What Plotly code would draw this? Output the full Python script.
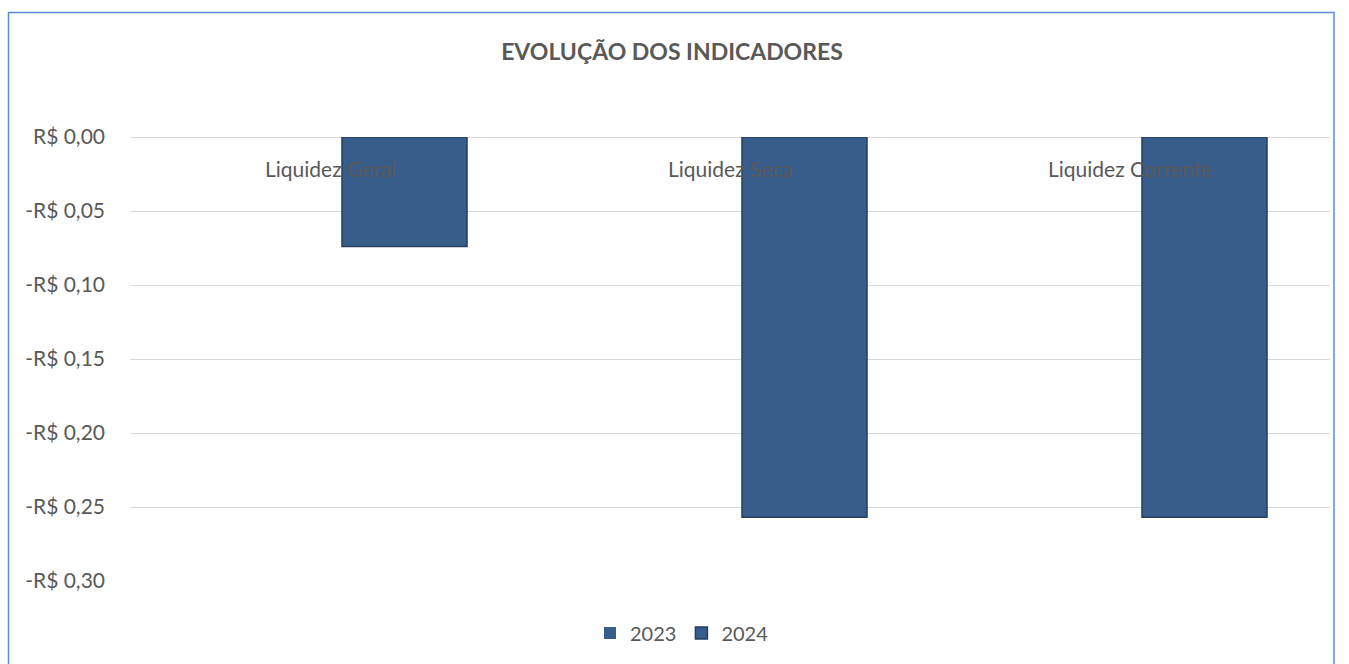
import plotly.graph_objects as go

categories = ["Liquidez Geral", "Liquidez Seca", "Liquidez Corrente"]
values_2023 = [0.0, 0.0, 0.0]
values_2024 = [-0.074, -0.257, -0.257]
tick_values = [0, -0.05, -0.10, -0.15, -0.20, -0.25, -0.30]
tick_labels = ["R$ 0,00", "-R$ 0,05", "-R$ 0,10", "-R$ 0,15", "-R$ 0,20", "-R$ 0,25", "-R$ 0,30"]

W, H = 1349, 664
L, R, T, B = 130, 19, 137, 83
plot_w = W - L - R
plot_h = H - T - B

FONT = "Lato, Open Sans, sans-serif"
TEXT = "#595959"
BAR = "#395D8B"
EDGE = "#233F63"

fig = go.Figure()
fig.add_trace(go.Bar(name="2023", x=categories, y=values_2023,
                     marker=dict(color=BAR, line=dict(width=0))))
fig.add_trace(go.Bar(name="2024", x=categories, y=values_2024,
                     marker=dict(color=BAR, line=dict(color=EDGE, width=1.5))))

# category labels sit just under the zero line
for c in categories:
    fig.add_annotation(x=c, y=0, xref="x", yref="y", text=c, showarrow=False,
                       yshift=-31, font=dict(family=FONT, size=21, color=TEXT))

# outer chart border
fig.add_shape(type="rect", xref="paper", yref="paper",
              x0=(8.5 - L) / plot_w, x1=(1334 - L) / plot_w,
              y0=-0.3, y1=(T + plot_h - 12.5) / plot_h,
              line=dict(color="#5B8ED0", width=1.5), fillcolor="rgba(0,0,0,0)", layer="below")

fig.update_layout(
    width=W, height=H,
    margin=dict(l=L, r=R, t=T, b=B),
    paper_bgcolor="white", plot_bgcolor="white",
    barmode="group", bargap=0.255, bargroupgap=0.161,
    title=dict(text="<b>EVOLUÇÃO DOS INDICADORES</b>", x=672 / W, xanchor="center",
               y=1 - 52 / H, yanchor="middle",
               font=dict(family=FONT, size=23, color=TEXT)),
    xaxis=dict(showticklabels=False, showgrid=False, zeroline=False, showline=False,
               ticks=""),
    yaxis=dict(range=[-0.30, 0], tickvals=tick_values, ticktext=tick_labels,
               showgrid=True, gridcolor="#D9D9D9", gridwidth=1,
               zeroline=True, zerolinecolor="#D9D9D9", zerolinewidth=1,
               showline=False, ticks="", ticklabelstandoff=24,
               tickfont=dict(family=FONT, size=21, color=TEXT)),
    legend=dict(orientation="h", x=(682 - L) / plot_w, xanchor="center",
                y=(T + plot_h - 633) / plot_h, yanchor="middle",
                font=dict(family=FONT, size=20, color=TEXT),
                itemwidth=30, traceorder="normal"),
    showlegend=True,
)

fig.write_html("out.html")
